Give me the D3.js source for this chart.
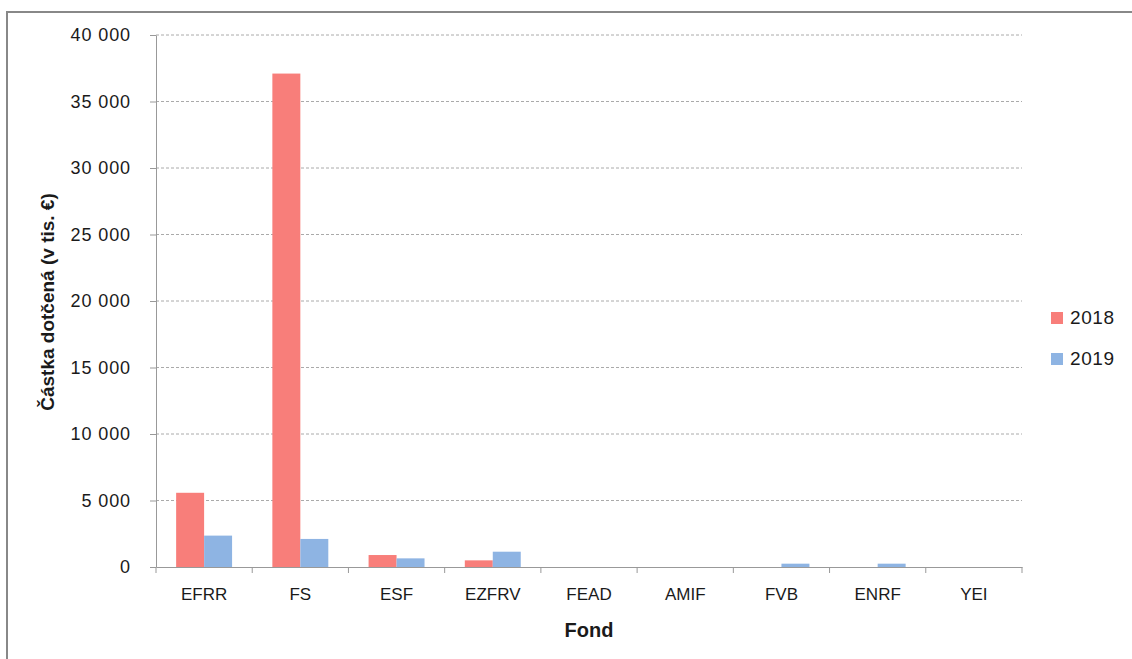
<!DOCTYPE html>
<html lang="cs">
<head>
    <meta charset="UTF-8">
    <title>Částka dotčená podle fondu</title>
    <script src="https://d3js.org/d3.v7.min.js"></script>
    <style>
        body { margin: 0; background: #fff; }
        svg text { font-family: "Liberation Sans", Arial, sans-serif; fill: #1a1a1a; }
        .grid line { stroke: #aaa; stroke-dasharray: 3,2; }
        .axis path, .axis line { stroke: #999; }
    </style>
</head>
<body>
    <svg width="1132" height="659"></svg>

    <script>
        // data (thousands of EUR)
        const funds = ["EFRR", "FS", "ESF", "EZFRV", "FEAD", "AMIF", "FVB", "ENRF", "YEI"];
        const years = ["2018", "2019"];
        const values2018 = [5580, 37100, 900, 500, 0, 0, 0, 0, 0];
        const values2019 = [2360, 2110, 650, 1150, 0, 0, 250, 250, 0];
        const yTicks = [0, 5000, 10000, 15000, 20000, 25000, 30000, 35000, 40000];
        const colors = ["#f87e7a", "#8eb4e3"];

        const svg = d3.select("svg");
        const margin = { left: 156, right: 1022, top: 35, bottom: 567 };

        // outer frame
        svg.append("rect")
            .attr("x", 7).attr("y", 12)
            .attr("width", 1140).attr("height", 660)
            .attr("fill", "none")
            .attr("stroke", "#888")
            .attr("stroke-width", 2);

        const x = d3.scaleBand().domain(funds).range([margin.left, margin.right]);
        const x1 = d3.scaleBand().domain(years)
            .range([0, x.bandwidth()])
            .paddingOuter(0.72);
        const y = d3.scaleLinear().domain([0, 40000]).range([margin.bottom, margin.top]);

        const fmt = d => d3.format(",")(d).replace(/,/g, " ");

        // gridlines
        svg.append("g").attr("class", "grid")
            .selectAll("line")
            .data(yTicks.filter(d => d > 0))
            .join("line")
            .attr("x1", margin.left).attr("x2", margin.right)
            .attr("y1", d => y(d)).attr("y2", d => y(d));

        // y axis
        const yAxis = svg.append("g").attr("class", "axis")
            .attr("transform", `translate(${margin.left},0)`)
            .call(d3.axisLeft(y).tickValues(yTicks).tickSize(6).tickSizeOuter(0)
                .tickFormat(fmt));
        yAxis.selectAll("text")
            .attr("x", -25)
            .style("font-size", "18px")
            .style("letter-spacing", "0.9px")
            .style("font-family", "\"Liberation Sans\", Arial, sans-serif")
            .attr("fill", "#1a1a1a");

        // bars
        const series = [values2018, values2019];
        const groups = svg.append("g").selectAll("g")
            .data(years)
            .join("g")
            .attr("fill", (d, i) => colors[i]);
        groups.selectAll("rect")
            .data((yr, i) => funds.map((f, j) => ({ fund: f, year: yr, value: series[i][j] })))
            .join("rect")
            .attr("x", d => x(d.fund) + x1(d.year))
            .attr("width", x1.bandwidth())
            .attr("y", d => y(d.value))
            .attr("height", d => y(0) - y(d.value));

        // x axis
        const xAxis = svg.append("g").attr("class", "axis")
            .attr("transform", `translate(0,${margin.bottom})`)
            .call(d3.axisBottom(x).tickSize(0).tickSizeOuter(0));
        xAxis.selectAll("text")
            .attr("y", 21)
            .style("font-size", "17px")
            .style("font-family", "\"Liberation Sans\", Arial, sans-serif")
            .attr("fill", "#1a1a1a");
        // tick marks between categories
        xAxis.selectAll(".sep")
            .data(d3.range(funds.length + 1))
            .join("line")
            .attr("class", "sep")
            .attr("x1", i => margin.left + i * x.step())
            .attr("x2", i => margin.left + i * x.step())
            .attr("y1", 0).attr("y2", 6);

        // axis titles
        svg.append("text")
            .attr("x", (margin.left + margin.right) / 2)
            .attr("y", 637)
            .attr("text-anchor", "middle")
            .style("font-size", "20px")
            .style("font-weight", "bold")
            .text("Fond");

        svg.append("text")
            .attr("transform", "translate(54,302) rotate(-90)")
            .attr("text-anchor", "middle")
            .style("font-size", "19px")
            .style("font-weight", "bold")
            .text("Částka dotčená (v tis. €)");

        // legend
        const legend = svg.append("g").selectAll("g")
            .data(years)
            .join("g")
            .attr("transform", (d, i) => `translate(1051,${312 + i * 41})`);
        legend.append("rect")
            .attr("width", 12).attr("height", 12)
            .attr("fill", (d, i) => colors[i]);
        legend.append("text")
            .attr("x", 19).attr("y", 12)
            .style("font-size", "19px")
            .style("letter-spacing", "0.6px")
            .text(d => d);
    </script>
</body>
</html>
